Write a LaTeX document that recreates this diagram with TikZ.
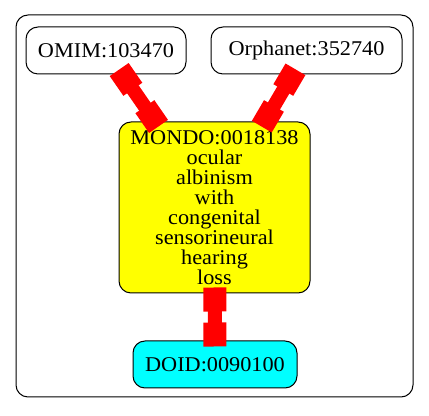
\documentclass[tikz,border=0pt]{standalone}
\usepackage{fontspec}
\setmainfont[FakeStretch=1.06]{Liberation Serif}
\usetikzlibrary{arrows.meta,positioning}
\definecolor{mondofill}{RGB}{255,255,0}
\definecolor{doidfill}{RGB}{0,255,255}
\definecolor{linkred}{RGB}{255,0,0}

\begin{document}
\begin{tikzpicture}[x=0.5pt,y=-0.5pt]
\tikzstyle{term}=[draw,rounded corners=6pt,inner sep=0pt,line width=0.5pt,minimum height=23.5pt,align=center,font=\fontsize{10.5}{10}\selectfont]
\tikzstyle{link}=[linkred,line width=7pt,{Square[length=12pt,width=11.5pt]}-{Square[length=12pt,width=11.5pt]},shorten <=-3pt,shorten >=-3pt]

\useasboundingbox (0,0) rectangle (429,416);
\draw[rounded corners=6pt,line width=0.5pt] (16,15) rectangle (413,397);

\node[term,minimum width=80pt] (omim) at (106,50.5) {OMIM:103470};
\node[term,minimum width=95.5pt] (orphanet) at (306.5,50.5) {Orphanet:352740};
\node[term,fill=mondofill,minimum width=95.5pt,minimum height=85.5pt] (mondo) at (214.5,207.5)
	{MONDO:0018138\\ocular\\albinism\\with\\congenital\\sensorineural\\hearing\\loss};
\node[term,fill=doidfill,minimum width=82pt] (doid) at (215,364.5) {DOID:0090100};

\draw[link] (omim) -- (mondo);
\draw[link] (orphanet) -- (mondo);
\draw[link] (mondo) -- (doid);
\end{tikzpicture}
\end{document}
